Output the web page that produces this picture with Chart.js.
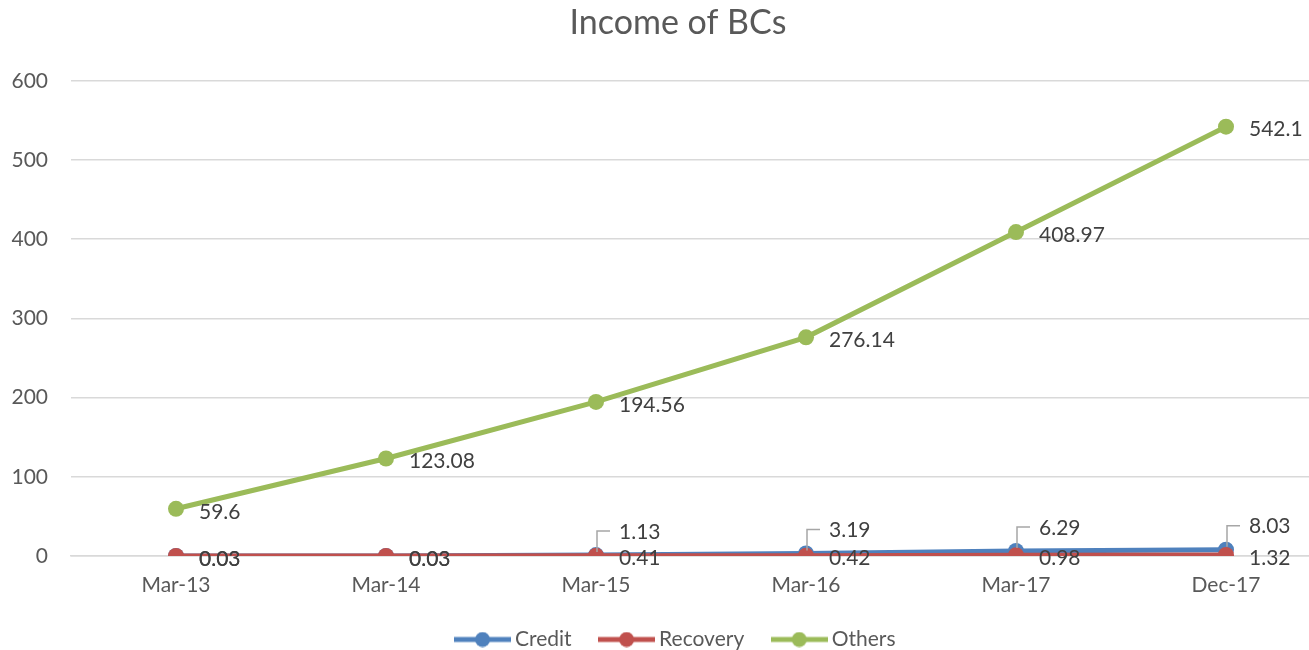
<!DOCTYPE html>
<html>
<head>
<meta charset="utf-8">
<script src="https://cdn.jsdelivr.net/npm/chart.js@4"></script>
<style>
  html, body { margin: 0; padding: 0; background: #fff; overflow: hidden; }
  #wrap { width: 1356px; height: 660px; }
</style>
</head>
<body>
<div id="wrap"><canvas id="incomeChart" width="1356" height="660"></canvas></div>
<script>
// Data
var periods = ["Mar-13", "Mar-14", "Mar-15", "Mar-16", "Mar-17", "Dec-17"];
var credit = [0.03, 0.03, 1.13, 3.19, 6.29, 8.03];
var recovery = [0.03, 0.03, 0.41, 0.42, 0.98, 1.32];
var others = [59.6, 123.08, 194.56, 276.14, 408.97, 542.1];
var yTicks = [0, 100, 200, 300, 400, 500, 600];

var FONT = "Lato";
var textGrey = "#595959";

// legend marker: short line with a dot in the middle, Excel style
function lineMarker(color) {
  var c = document.createElement("canvas");
  c.width = 57;
  c.height = 16;
  var g = c.getContext("2d");
  g.strokeStyle = color;
  g.lineWidth = 5;
  g.beginPath();
  g.moveTo(0, 8);
  g.lineTo(57, 8);
  g.stroke();
  g.fillStyle = color;
  g.beginPath();
  g.arc(28.5, 8, 7.5, 0, Math.PI * 2);
  g.fill();
  return c;
}

// value labels next to each point
var valueLabels = {
  id: "valueLabels",
  afterDatasetsDraw: function (chart) {
    var ctx = chart.ctx;
    ctx.save();
    ctx.font = "21px " + FONT;
    ctx.fillStyle = "#404040";
    ctx.textAlign = "left";
    ctx.textBaseline = "middle";
    chart.data.datasets.forEach(function (ds, i) {
      var meta = chart.getDatasetMeta(i);
      meta.data.forEach(function (pt, j) {
        var v = ds.data[j];
        var raised = ds.label === "Credit" && v > 1;
        if (raised) {
          ctx.strokeStyle = "#a6a6a6";
          ctx.lineWidth = 1.5;
          ctx.beginPath();
          ctx.moveTo(pt.x + 1, pt.y - 3);
          ctx.lineTo(pt.x + 1, pt.y - 24);
          ctx.lineTo(pt.x + 14, pt.y - 24);
          ctx.stroke();
          ctx.fillText(String(v), pt.x + 23, pt.y - 23);
        } else {
          ctx.fillText(String(v), pt.x + 23, pt.y + 3);
        }
      });
    });
    ctx.restore();
  },
};

var ctx = document.getElementById("incomeChart").getContext("2d");
var incomeChart = new Chart(ctx, {
  type: "line",
  data: {
    labels: periods,
    datasets: [
      {
        label: "Credit",
        data: credit,
        borderColor: "#4F81BD",
        backgroundColor: "#4F81BD",
        order: 3,
      },
      {
        label: "Recovery",
        data: recovery,
        borderColor: "#C0504D",
        backgroundColor: "#C0504D",
        order: 2,
      },
      {
        label: "Others",
        data: others,
        borderColor: "#9BBB59",
        backgroundColor: "#9BBB59",
        order: 1,
      },
    ],
  },
  options: {
    responsive: false,
    animation: false,
    elements: {
      line: { borderWidth: 5, tension: 0 },
      point: { radius: 8, borderWidth: 0, hoverRadius: 8 },
    },
    scales: {
      x: {
        offset: true,
        grid: { display: false, drawTicks: false, offset: true },
        border: { color: "#d9d9d9", width: 1.5 },
        ticks: {
          color: textGrey,
          font: { family: FONT, size: 21 },
          padding: 17,
          maxRotation: 0,
        },
        afterFit: function (scale) {
          scale.height = 40;
        },
      },
      y: {
        min: 0,
        max: 600,
        afterBuildTicks: function (scale) {
          scale.ticks = yTicks.map(function (v) {
            return { value: v };
          });
        },
        grid: { color: "#d9d9d9", lineWidth: 1.5, drawTicks: false },
        border: { display: false },
        ticks: {
          color: textGrey,
          font: { family: FONT, size: 21 },
          padding: 23,
        },
        afterFit: function (scale) {
          scale.width = 71;
        },
      },
      // empty right-hand strip so the plot stops short of the edge
      yPad: {
        position: "right",
        grid: { display: false, drawTicks: false },
        border: { display: false },
        ticks: { display: false },
        afterFit: function (scale) {
          scale.width = 25;
        },
      },
    },
    plugins: {
      title: {
        display: true,
        text: "Income of BCs",
        color: textGrey,
        font: { family: FONT, size: 34, weight: "normal" },
        padding: { top: 3, bottom: 37 },
      },
      legend: {
        position: "bottom",
        labels: {
          color: textGrey,
          font: { family: FONT, size: 21 },
          usePointStyle: true,
          pointStyleWidth: 44,
          boxHeight: 16,
          padding: 33,
          generateLabels: function (chart) {
            return chart.data.datasets.map(function (ds, i) {
              return {
                text: ds.label,
                fontColor: textGrey,
                pointStyle: lineMarker(ds.borderColor),
                datasetIndex: i,
                lineWidth: 0,
                strokeStyle: "rgba(0,0,0,0)",
                fillStyle: ds.borderColor,
              };
            });
          },
        },
      },
      tooltip: { enabled: false },
    },
  },
  plugins: [valueLabels],
});
</script>
</body>
</html>
